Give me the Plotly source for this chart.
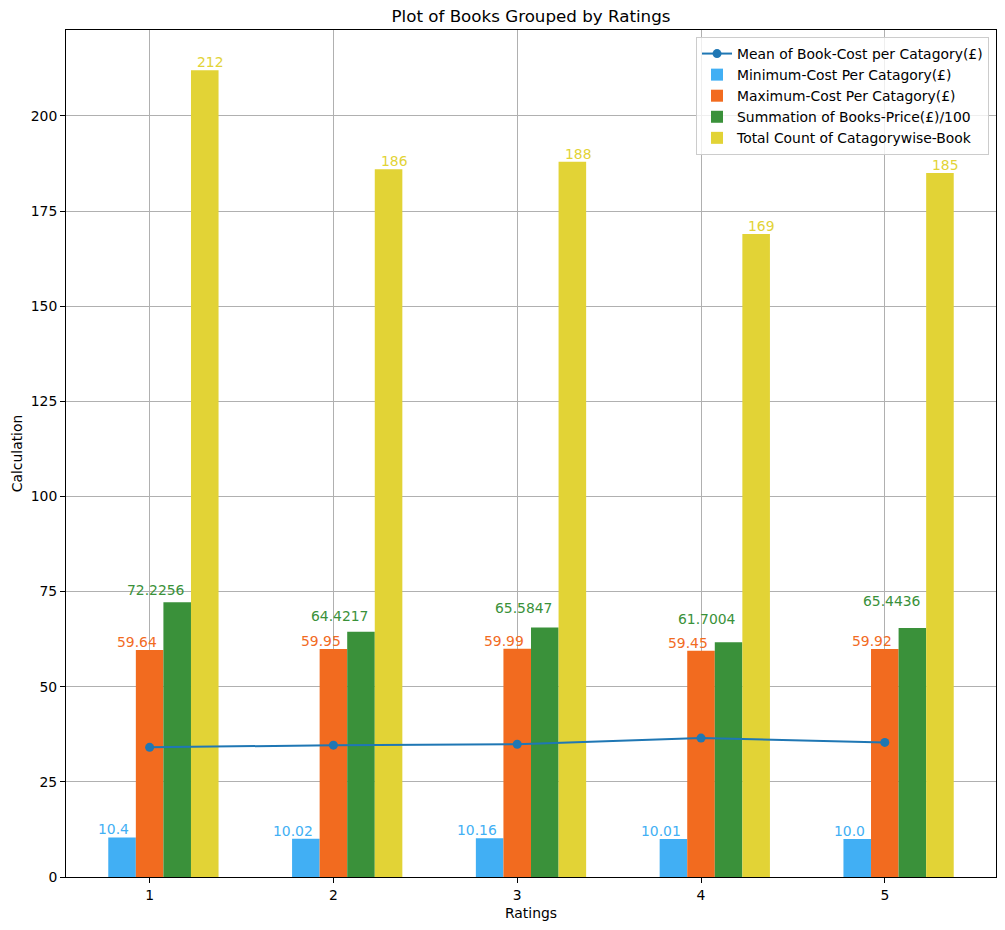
import plotly.graph_objects as go

ratings = [1, 2, 3, 4, 5]
min_cost = [10.4, 10.02, 10.16, 10.01, 10.0]
max_cost = [59.64, 59.95, 59.99, 59.45, 59.92]
sum_price_100 = [72.2256, 64.4217, 65.5847, 61.7004, 65.4436]
book_counts = [212, 186, 188, 169, 185]
mean_cost = [34.07, 34.64, 34.89, 36.51, 35.37]

names = {
    "mean": "Mean of Book-Cost per Catagory(£)",
    "min": "Minimum-Cost Per Catagory(£)",
    "max": "Maximum-Cost Per Catagory(£)",
    "sum": "Summation of Books-Price(£)/100",
    "cnt": "Total Count of Catagorywise-Book",
}

C_BLUE = "#41aff4"
C_ORANGE = "#f26b1f"
C_GREEN = "#3a913a"
C_YELLOW = "#e2d336"
C_LINE = "#1f77b4"
FONT = "DejaVu Sans"
W = 0.15

fig = go.Figure()
fig.add_trace(go.Scatter(x=ratings, y=mean_cost, mode="lines+markers", name=names["mean"],
                         line=dict(color=C_LINE, width=2), marker=dict(size=9, color=C_LINE)))
series = [
    (min_cost, names["min"], C_BLUE, -0.225),
    (max_cost, names["max"], C_ORANGE, -0.075),
    (sum_price_100, names["sum"], C_GREEN, 0.075),
    (book_counts, names["cnt"], C_YELLOW, 0.225),
]
for vals, nm, col, off in series:
    fig.add_trace(go.Bar(x=ratings, y=vals, name=nm, marker=dict(color=col, line=dict(width=0)),
                         width=W, offset=off))

ann = []
for i, r in enumerate(ratings):
    ann.append(dict(x=r - 0.105, y=min_cost[i], text=str(min_cost[i]), xanchor="right", yanchor="bottom",
                    font=dict(color=C_BLUE)))
    ann.append(dict(x=r + 0.045, y=max_cost[i], text=str(max_cost[i]), xanchor="right", yanchor="bottom",
                    font=dict(color=C_ORANGE)))
    ann.append(dict(x=r + 0.195, y=sum_price_100[i] + (i + 1), text=str(sum_price_100[i]), xanchor="right",
                    yanchor="bottom", font=dict(color=C_GREEN)))
    ann.append(dict(x=r + 0.252, y=book_counts[i], text=str(book_counts[i]), xanchor="left", yanchor="bottom",
                    font=dict(color=C_YELLOW)))
for a in ann:
    a.update(xref="x", yref="y", showarrow=False, borderpad=0, yshift=-1)
    a["font"].update(family=FONT, size=13.9)

axis_common = dict(showline=True, linecolor="black", linewidth=1, mirror=True, ticks="outside",
                   ticklen=5, tickcolor="black", showgrid=True, gridcolor="#b0b0b0", gridwidth=0.8,
                   zeroline=False, tickfont=dict(family=FONT, size=13.9, color="black"), automargin=False)

fig.update_layout(
    width=1005, height=930,
    margin=dict(l=66, r=9, t=30, b=53),
    paper_bgcolor="white", plot_bgcolor="white",
    barmode="overlay",
    font=dict(family=FONT, size=13.9, color="black"),
    title=dict(text="Plot of Books Grouped by Ratings", x=0.5, xref="paper", xanchor="center",
               y=1 - 16 / 930, yref="container", yanchor="middle", font=dict(family=FONT, size=16.7)),
    xaxis=dict(range=[0.545, 5.605], tickvals=ratings, ticktext=[str(r) for r in ratings],
               title=dict(text="Ratings", standoff=6, font=dict(family=FONT, size=13.9)), **axis_common),
    yaxis=dict(range=[0, 222.6], tick0=0, dtick=25,
               title=dict(text="Calculation", standoff=4, font=dict(family=FONT, size=13.9)), **axis_common),
    legend=dict(x=0.9925, y=0.9917, xanchor="right", yanchor="top", bgcolor="rgba(255,255,255,0.8)",
                bordercolor="#cccccc", borderwidth=1, font=dict(family=FONT, size=13.9),
                tracegroupgap=0),
    annotations=ann,
    showlegend=True,
)

fig.write_html("out.html", config={"displayModeBar": False},
               post_script="document.body.style.margin='0';document.body.style.overflow='hidden';")
